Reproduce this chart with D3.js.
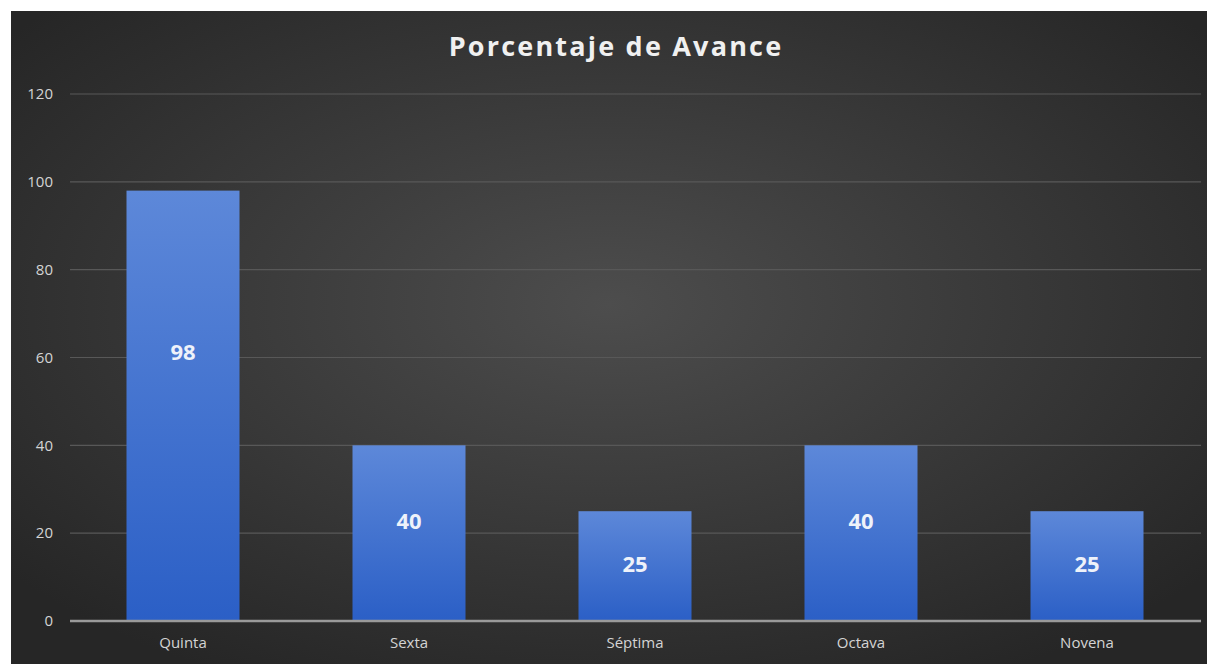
<!DOCTYPE html>
<html><head><meta charset="utf-8">
<script src="https://cdn.jsdelivr.net/npm/d3@7"></script>
<style>html,body{margin:0;padding:0;background:#fff;}</style>
</head><body>
<svg id="c" width="1207" height="664"></svg>
<script>
const categories = ["Quinta", "Sexta", "Séptima", "Octava", "Novena"];
const values = [98, 40, 25, 40, 25];
const yTicks = [0, 20, 40, 60, 80, 100, 120];
const title = "Porcentaje de Avance";

const svg = d3.select("#c");
const defs = svg.append("defs");
const bg = defs.append("radialGradient").attr("id","bg").attr("cx","50%").attr("cy","45%").attr("r","65%");
bg.append("stop").attr("offset","0%").attr("stop-color","#4d4d4d");
bg.append("stop").attr("offset","100%").attr("stop-color","#262626");
const bar = defs.append("linearGradient").attr("id","bar").attr("x1",0).attr("y1",0).attr("x2",0).attr("y2",1);
bar.append("stop").attr("offset","0%").attr("stop-color","#5d88d9");
bar.append("stop").attr("offset","100%").attr("stop-color","#2b5fc6");

svg.append("rect").attr("x",11).attr("y",11).attr("width",1196).attr("height",653).attr("fill","url(#bg)");

const x = d3.scaleBand().domain(categories).range([70, 1200]).paddingInner(0.5).paddingOuter(0.25);
const y = d3.scaleLinear().domain([0, 120]).range([621, 94]);

// gridlines
svg.append("g").selectAll("line").data(yTicks.filter(d => d > 0)).join("line")
  .attr("x1", 70).attr("x2", 1201).attr("y1", d => y(d)).attr("y2", d => y(d))
  .attr("stroke", "#585858").attr("stroke-width", 1.2);

// y axis labels
const yAxis = d3.axisLeft(y).tickValues(yTicks).tickSize(0).tickPadding(0);
const ya = svg.append("g").attr("transform","translate(53,0)").call(yAxis);
ya.select(".domain").remove();
ya.selectAll("text").attr("fill","#d4d4d4").style("font-family","'Open Sans', sans-serif").style("font-size","15px");

// bars
svg.append("g").selectAll("rect").data(values).join("rect")
  .attr("x", (d,i) => x(categories[i])).attr("width", x.bandwidth())
  .attr("y", d => y(d)).attr("height", d => y(0) - y(d))
  .attr("fill", "url(#bar)");

// baseline
svg.append("line").attr("x1",70).attr("x2",1201).attr("y1",y(0)).attr("y2",y(0))
  .attr("stroke","#9a9a9a").attr("stroke-width",2.5);

// x axis labels
const xAxis = d3.axisBottom(x).tickSize(0).tickPadding(0);
const xa = svg.append("g").attr("transform",`translate(0,${y(0)+16})`).call(xAxis);
xa.select(".domain").remove();
xa.selectAll("text").attr("fill","#d4d4d4").style("font-family","'Open Sans', sans-serif").style("font-size","15px");

// data labels
svg.append("g").selectAll("text").data(values).join("text")
  .attr("x", (d,i) => x(categories[i]) + x.bandwidth()/2)
  .attr("y", d => y(0.66*d - 3.6))
  .attr("dy","0.35em").attr("text-anchor","middle")
  .attr("fill","#eef2fa").style("font-family","'Open Sans', sans-serif")
  .style("font-weight","bold").style("font-size","22px")
  .text(d => d);

// title
svg.append("text").attr("x", 616).attr("y", 47).attr("dy","0.35em").attr("text-anchor","middle")
  .attr("fill","#f0f0f0").style("font-family","'Open Sans', sans-serif").style("font-weight","bold")
  .style("font-size","27px").style("letter-spacing","2.2px").text(title);
</script>
</body></html>
